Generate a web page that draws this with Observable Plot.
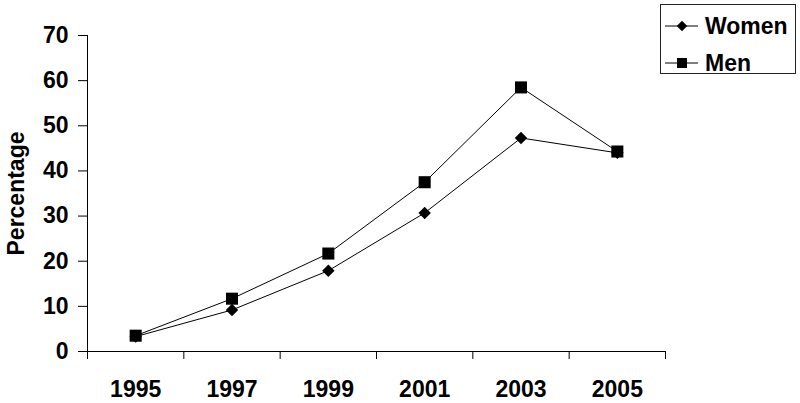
<!DOCTYPE html>
<html>
<head>
<meta charset="utf-8">
<script src="https://cdn.jsdelivr.net/npm/d3@7"></script>
<script src="https://cdn.jsdelivr.net/npm/@observablehq/plot@0.6"></script>
<style>
  html, body { margin: 0; padding: 0; background: #fff; }
  #wrap { position: relative; width: 800px; height: 403px; font-family: "Liberation Sans", Arial, sans-serif; }
  #legend { position: absolute; left: 660px; top: 4px; width: 134px; height: 68px; border: 1px solid #222; background: #fff; }
  #legend svg { display: block; overflow: visible; }
</style>
</head>
<body>
<div id="wrap"></div>
<script>
const years = [1995, 1997, 1999, 2001, 2003, 2005];
const women = [3.3, 9.2, 17.9, 30.7, 47.3, 44.0];
const men = [3.5, 11.7, 21.7, 37.5, 58.5, 44.3];
const seriesNames = ["Women", "Men"];
const seriesSymbols = ["diamond2", "square"];
const yTicks = [0, 10, 20, 30, 40, 50, 60, 70];
const xBoundaries = [1994, 1996, 1998, 2000, 2002, 2004, 2006];
const yLabel = "Percentage";

const data = [
  ...years.map((year, i) => ({year, value: women[i], series: "Women"})),
  ...years.map((year, i) => ({year, value: men[i], series: "Men"}))
];

const font = "'Liberation Sans', Arial, sans-serif";
const fs = 23;

const chart = Plot.plot({
  width: 800,
  height: 403,
  marginLeft: 87,
  marginRight: 135,
  marginTop: 35,
  marginBottom: 52,
  style: {fontFamily: font, fontSize: fs + "px", fontWeight: "bold", color: "#000", background: "#fff"},
  x: {type: "linear", domain: [1994, 2006]},
  y: {domain: [0, 70]},
  symbol: {domain: seriesNames, range: seriesSymbols},
  marks: [
    Plot.axisX({ticks: xBoundaries, tickSize: 8, tickFormat: () => "", stroke: "#000", label: null}),
    Plot.axisX({ticks: years, tickSize: 0, tickPadding: 29, tickFormat: d => String(d), fontSize: fs, fontWeight: "bold", fill: "#000", label: null}),
    Plot.axisY({ticks: yTicks, tickSize: 9, tickPadding: 10, fontSize: fs, fontWeight: "bold", fill: "#000", stroke: "#000", label: null}),
    Plot.ruleY([0], {stroke: "#000", strokeWidth: 1}),
    Plot.ruleX([1994], {stroke: "#000", strokeWidth: 1}),
    Plot.text([yLabel], {frameAnchor: "left", dx: -71, rotate: -90, textAnchor: "middle", fontSize: fs, fontWeight: "bold", fill: "#000", lineAnchor: "middle"}),
    Plot.lineY(data.filter(d => d.series === "Women"), {x: "year", y: "value", stroke: "#000", strokeWidth: 1}),
    Plot.dot(data.filter(d => d.series === "Women"), {x: "year", y: "value", symbol: "series", fill: "#000", stroke: "none", r: 5.6}),
    Plot.lineY(data.filter(d => d.series === "Men"), {x: "year", y: "value", stroke: "#000", strokeWidth: 1}),
    Plot.dot(data.filter(d => d.series === "Men"), {x: "year", y: "value", symbol: "series", fill: "#000", stroke: "none", r: 6.8})
  ]
});

const wrap = document.getElementById("wrap");
wrap.appendChild(chart);

// Legend
const legend = document.createElement("div");
legend.id = "legend";
wrap.appendChild(legend);
const lsvg = d3.select(legend).append("svg").attr("width", 134).attr("height", 68);
const symFns = {diamond2: d3.symbolDiamond2, square: d3.symbolSquare};
const rowY = [21, 58];
const symSizes = [70, 100];
seriesNames.forEach((name, i) => {
  const g = lsvg.append("g").attr("transform", `translate(0,${rowY[i]})`);
  g.append("line").attr("x1", 4).attr("x2", 37).attr("y1", 0).attr("y2", 0).attr("stroke", "#000").attr("stroke-width", 1);
  g.append("path").attr("d", d3.symbol(symFns[seriesSymbols[i]], symSizes[i])()).attr("transform", "translate(21,0)").attr("fill", "#000");
  g.append("text").attr("x", 44).attr("y", 0).attr("dy", "0.36em")
    .attr("font-family", font).attr("font-size", fs).attr("font-weight", "bold").attr("fill", "#000").text(name);
});
</script>
</body>
</html>
